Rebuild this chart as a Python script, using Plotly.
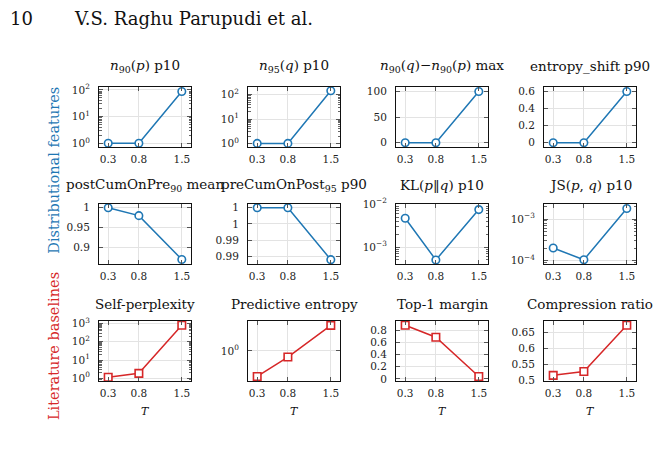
import plotly.graph_objects as go

W, H = 659, 466

# ---------------- data ----------------
T = [0.3, 0.8, 1.5]
x_ticktext = ["0.3", "0.8", "1.5"]

n90_p = [1, 1, 87]
n95_q = [1, 1, 145]
n90_diff_max = [0, 0, 100]
entropy_shift_p90 = [0, 0, 0.6]
post_cum_on_pre = [1.0, 0.980, 0.869]
pre_cum_on_post = [1.0, 1.0, 0.9920]
kl_p10 = [0.0047, 0.0005, 0.0075]
js_p10 = [2.0e-4, 1.04e-4, 1.8e-3]
self_perplexity = [1.13, 1.85, 810]
predictive_entropy = [0.919, 0.980, 1.088]
top1_margin = [0.88, 0.683, 0.038]
compression_ratio = [0.515, 0.527, 0.672]

titles = [
    "<i>n</i><sub>90</sub>(<i>p</i>) p10",
    "<i>n</i><sub>95</sub>(<i>q</i>) p10",
    "<i>n</i><sub>90</sub>(<i>q</i>)−<i>n</i><sub>90</sub>(<i>p</i>) max",
    "entropy_shift p90",
    "postCumOnPre<sub>90</sub> mean",
    "preCumOnPost<sub>95</sub> p90",
    "KL(<i>p</i>‖<i>q</i>) p10",
    "JS(<i>p</i>, <i>q</i>) p10",
    "Self-perplexity",
    "Predictive entropy",
    "Top-1 margin",
    "Compression ratio",
]
row_labels = ["Distributional features", "Literature baselines"]
header_page = "10"
header_authors = "V.S. Raghu Parupudi et al."
x_title = "<i>T</i>"

BLUE = "#1f77b4"
RED = "#d62728"
FONT = "DejaVu Serif"


def dec(a, b):
    out = []
    e = a
    while e < b:
        for m in range(2, 10):
            out.append(m * 10.0 ** e)
        e += 1
    return out


panels = [
    dict(y=n90_p, log=True, rng=[-0.15, 2.11], tv=[1, 10, 100],
         tt=["10<sup>0</sup>", "10<sup>1</sup>", "10<sup>2</sup>"], minor=dec(0, 2)),
    dict(y=n95_q, log=True, rng=[-0.16, 2.32], tv=[1, 10, 100],
         tt=["10<sup>0</sup>", "10<sup>1</sup>", "10<sup>2</sup>"], minor=dec(0, 3)),
    dict(y=n90_diff_max, log=False, rng=[-9, 109], tv=[0, 50, 100], tt=["0", "50", "100"]),
    dict(y=entropy_shift_p90, log=False, rng=[-0.054, 0.654], tv=[0, 0.2, 0.4, 0.6],
         tt=["0", "0.2", "0.4", "0.6"]),
    dict(y=post_cum_on_pre, log=False, rng=[0.857, 1.01], tv=[0.9, 0.95, 1.0],
         tt=["0.9", "0.95", "1"]),
    dict(y=pre_cum_on_post, log=False, rng=[0.9913, 1.0006],
         tv=[0.9925, 0.995, 0.9975, 1.0], tt=["0.99", "0.99", "1", "1"]),
    dict(y=kl_p10, log=True, rng=[-3.4, -1.99], tv=[1e-3, 1e-2],
         tt=["10<sup>−3</sup>", "10<sup>−2</sup>"], minor=dec(-4, -2)),
    dict(y=js_p10, log=True, rng=[-4.09, -2.63], tv=[1e-4, 1e-3],
         tt=["10<sup>−4</sup>", "10<sup>−3</sup>"], minor=dec(-5, -2)),
    dict(y=self_perplexity, log=True, rng=[-0.16, 3.16], tv=[1, 10, 100, 1000],
         tt=["10<sup>0</sup>", "10<sup>1</sup>", "10<sup>2</sup>", "10<sup>3</sup>"], minor=dec(-1, 4)),
    dict(y=predictive_entropy, log=True, rng=[-0.0434, 0.0434], tv=[1],
         tt=["10<sup>0</sup>"], minor=dec(-1, 1)),
    dict(y=top1_margin, log=False, rng=[-0.037, 0.955], tv=[0, 0.2, 0.4, 0.6, 0.8],
         tt=["0", "0.2", "0.4", "0.6", "0.8"]),
    dict(y=compression_ratio, log=False, rng=[0.497, 0.686], tv=[0.5, 0.55, 0.6, 0.65],
         tt=["0.5", "0.55", "0.6", "0.65"]),
]

col_left = [99, 248, 396, 544]
row_top = [82, 202, 322]
title_offset = [21, 19, 17]
PW, PH = 92, 62

fig = go.Figure()
layout = dict(
    width=W, height=H, margin=dict(l=0, r=0, t=0, b=0),
    paper_bgcolor="white", plot_bgcolor="white", showlegend=False,
    font=dict(family=FONT, color="#222"),
)
annotations = []

for i, p in enumerate(panels):
    r, c = divmod(i, 4)
    color = BLUE if r < 2 else RED
    symbol = "circle" if r < 2 else "square"
    xs = "x" if i == 0 else f"x{i+1}"
    ys = "y" if i == 0 else f"y{i+1}"
    fig.add_trace(go.Scatter(
        x=T, y=p["y"], xaxis=xs, yaxis=ys, mode="lines+markers",
        line=dict(color=color, width=1.5),
        marker=dict(symbol=symbol, size=7.5, color="white", line=dict(color=color, width=1.6)),
        cliponaxis=False,
    ))
    x0, x1 = col_left[c] / W, (col_left[c] + PW) / W
    y1, y0 = 1 - row_top[r] / H, 1 - (row_top[r] + PH) / H
    common = dict(showline=True, linecolor="#111", linewidth=1, mirror="ticks",
                  ticks="inside", ticklen=4, tickcolor="#555", tickwidth=1,
                  showgrid=True, gridcolor="#e3e3e3", gridwidth=1, zeroline=False,
                  tickfont=dict(family=FONT, size=10.5, color="#222"))
    xa = dict(common, domain=[x0, x1], anchor=ys, range=[0.15, 1.65],
              tickmode="array", tickvals=T, ticktext=x_ticktext, ticklabelstandoff=2)
    ya = dict(common, domain=[y0, y1], anchor=xs, range=p["rng"],
              tickmode="array", tickvals=p["tv"], ticktext=p["tt"], ticklabelstandoff=6)
    if p["log"]:
        ya["type"] = "log"
        ya["minor"] = dict(tickmode="array", tickvals=p["minor"], ticks="inside",
                           ticklen=2.5, tickcolor="#666", tickwidth=1, showgrid=False)
    layout["xaxis" if i == 0 else f"xaxis{i+1}"] = xa
    layout["yaxis" if i == 0 else f"yaxis{i+1}"] = ya

    annotations.append(dict(
        text=titles[i], x=(col_left[c] + PW / 2) / W, y=1 - (row_top[r] - title_offset[r]) / H,
        xref="paper", yref="paper", showarrow=False, xanchor="center", yanchor="middle",
        font=dict(family=FONT, size=13.5, color="#111")))
    if r == 2:
        annotations.append(dict(
            text=x_title, x=(col_left[c] + PW / 2) / W, y=1 - 415 / H,
            xref="paper", yref="paper", showarrow=False, xanchor="center", yanchor="middle",
            font=dict(family=FONT, size=11, color="#111")))

annotations.append(dict(text=row_labels[0], x=54 / W, y=1 - 168 / H, xref="paper", yref="paper",
                        showarrow=False, textangle=-90, xanchor="center", yanchor="middle",
                        font=dict(family=FONT, size=14.5, color=BLUE)))
annotations.append(dict(text=row_labels[1], x=54 / W, y=1 - 348 / H, xref="paper", yref="paper",
                        showarrow=False, textangle=-90, xanchor="center", yanchor="middle",
                        font=dict(family=FONT, size=14.5, color=RED)))
annotations.append(dict(text=header_page, x=8 / W, y=1 - 12 / H, xref="paper", yref="paper",
                        showarrow=False, xanchor="left", yanchor="middle",
                        font=dict(family=FONT, size=18, color="#111")))
annotations.append(dict(text=header_authors, x=72 / W, y=1 - 12 / H, xref="paper", yref="paper",
                        showarrow=False, xanchor="left", yanchor="middle",
                        font=dict(family=FONT, size=18, color="#111")))

layout["annotations"] = annotations
fig.update_layout(**layout)
fig.write_html("out.html")
